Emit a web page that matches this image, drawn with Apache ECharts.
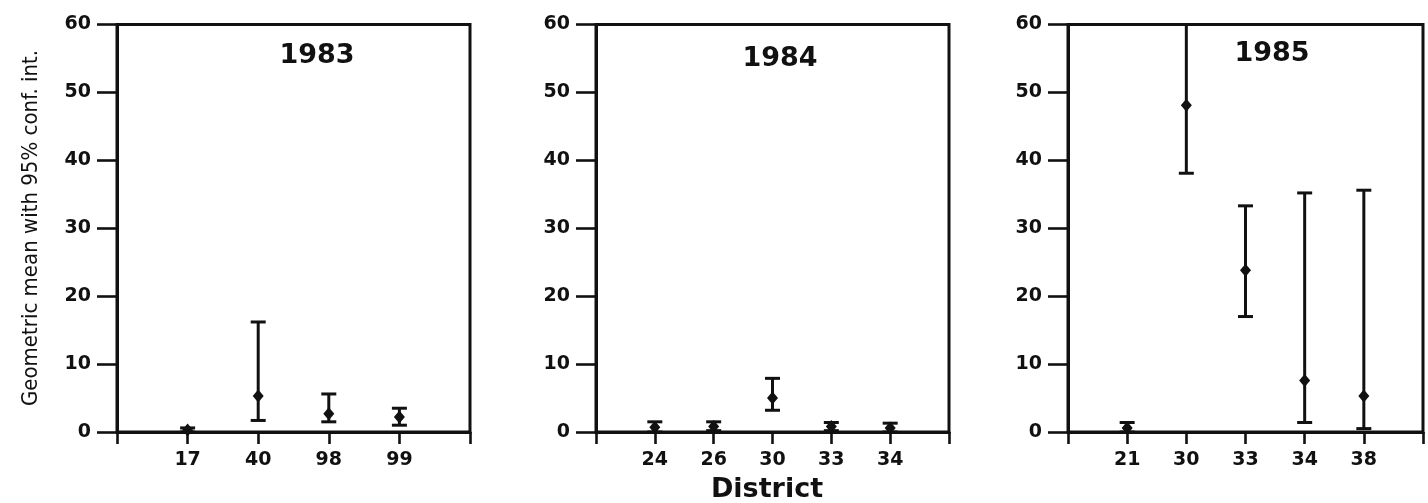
<!DOCTYPE html>
<html>
<head>
<meta charset="utf-8">
<script src="https://cdn.jsdelivr.net/npm/echarts@6/dist/echarts.min.js"></script>
<style>
html,body{margin:0;padding:0;background:#fff;}
#c{width:1428px;height:503px;}
</style>
</head>
<body>
<div id="c"></div>
<script>
// ---- data ----
var cat1983 = ['17', '40', '98', '99'];
var mean1983 = [0.3, 5.3, 2.7, 2.2];
var lo1983 = [0.0, 1.7, 1.5, 1.0];
var hi1983 = [0.6, 16.2, 5.6, 3.5];

var cat1984 = ['24', '26', '30', '33', '34'];
var mean1984 = [0.7, 0.8, 5.0, 0.8, 0.6];
var lo1984 = [0.0, 0.2, 3.2, 0.2, 0.0];
var hi1984 = [1.5, 1.5, 7.9, 1.4, 1.3];

var cat1985 = ['21', '30', '33', '34', '38'];
var mean1985 = [0.6, 48.1, 23.8, 7.6, 5.3];
var lo1985 = [0.0, 38.1, 17.0, 1.4, 0.5];
var hi1985 = [1.4, 60.0, 33.3, 35.2, 35.6];

var yTicks = [0, 10, 20, 30, 40, 50, 60];
var panelTitles = ['1983', '1984', '1985'];
var yTitle = 'Geometric mean with 95% conf. int.';
var xTitle = 'District';

// ---- chart ----
var panels = [
  {cats: cat1983, mean: mean1983, lo: lo1983, hi: hi1983},
  {cats: cat1984, mean: mean1984, lo: lo1984, hi: hi1984},
  {cats: cat1985, mean: mean1985, lo: lo1985, hi: hi1985}
];
var gridPos = [
  {left: 117, width: 353},
  {left: 596, width: 353},
  {left: 1068, width: 355}
];
var TOP = 24.5, HEIGHT = 407.5;
var INK = '#111';
var tickFont = {fontFamily: 'DejaVu Sans', fontWeight: 'bold', fontSize: 19, color: INK};

function renderItem(params, api) {
  var x = api.value(0);
  var pM = api.coord([x, api.value(1)]);
  var pL = api.coord([x, api.value(2)]);
  var pH = api.coord([x, api.value(3)]);
  var cw = 7.5, dw = 5.5, dh = 6.5;
  var ls = {stroke: INK, lineWidth: 3};
  return {
    type: 'group',
    children: [
      {type: 'line', shape: {x1: pL[0], y1: pL[1], x2: pH[0], y2: pH[1]}, style: ls},
      {type: 'line', shape: {x1: pH[0] - cw, y1: pH[1], x2: pH[0] + cw, y2: pH[1]}, style: ls},
      {type: 'line', shape: {x1: pL[0] - cw, y1: pL[1], x2: pL[0] + cw, y2: pL[1]}, style: ls},
      {type: 'polygon', shape: {points: [[pM[0], pM[1] - dh], [pM[0] + dw, pM[1]], [pM[0], pM[1] + dh], [pM[0] - dw, pM[1]]]},
        style: {fill: INK}}
    ]
  };
}

var grids = [], xAxes = [], yAxes = [], series = [], graphics = [];
panels.forEach(function (p, i) {
  grids.push({left: gridPos[i].left, width: gridPos[i].width, top: TOP, height: HEIGHT,
    show: true, borderColor: INK, borderWidth: 3, backgroundColor: 'transparent'});
  var n = p.cats.length;
  xAxes.push({
    type: 'value', gridIndex: i, min: 0, max: n + 1, interval: 1,
    axisLine: {show: true, onZero: false, lineStyle: {color: INK, width: 3}},
    axisTick: {show: true, length: 12, lineStyle: {color: INK, width: 2.6}},
    splitLine: {show: false},
    axisLabel: Object.assign({margin: 19, showMinLabel: true, showMaxLabel: true,
      formatter: (function (cats) {
        return function (v) { var k = Math.round(v) - 1; return (k >= 0 && k < cats.length) ? cats[k] : ''; };
      })(p.cats)}, tickFont)
  });
  yAxes.push({
    type: 'value', gridIndex: i, min: 0, max: 60, interval: 10,
    axisLine: {show: true, lineStyle: {color: INK, width: 3}},
    axisTick: {show: true, length: 20, lineStyle: {color: INK, width: 2.6}},
    splitLine: {show: false},
    axisLabel: Object.assign({margin: 26, formatter: function (v) { return yTicks.indexOf(v) >= 0 ? String(v) : ''; }}, tickFont)
  });
  var data = p.cats.map(function (c, k) { return [k + 1, p.mean[k], p.lo[k], p.hi[k]]; });
  series.push({type: 'custom', xAxisIndex: i, yAxisIndex: i, renderItem: renderItem, data: data, clip: false, z: 10});
});

var titlePos = [[317, 56], [780, 59], [1272, 54]];
panelTitles.forEach(function (t, i) {
  graphics.push({type: 'text', x: titlePos[i][0], y: titlePos[i][1],
    style: {text: t, fontFamily: 'DejaVu Sans', fontWeight: 'bold', fontSize: 27, fill: INK,
      align: 'center', verticalAlign: 'middle'}});
});
graphics.push({type: 'text', x: 31, y: 228, rotation: Math.PI / 2,
  style: {text: yTitle, fontFamily: '"Liberation Sans Narrow", "DejaVu Sans Condensed", sans-serif', fontSize: 22, fill: INK,
    align: 'center', verticalAlign: 'middle'}});
graphics.push({type: 'text', x: 767, y: 490,
  style: {text: xTitle, fontFamily: 'DejaVu Sans', fontWeight: 'bold', fontSize: 27, fill: INK,
    align: 'center', verticalAlign: 'middle'}});

var chart = echarts.init(document.getElementById('c'), null, {renderer: 'canvas'});
chart.setOption({
  animation: false,
  backgroundColor: '#fff',
  grid: grids, xAxis: xAxes, yAxis: yAxes, series: series, graphic: graphics
});
</script>
</body>
</html>
